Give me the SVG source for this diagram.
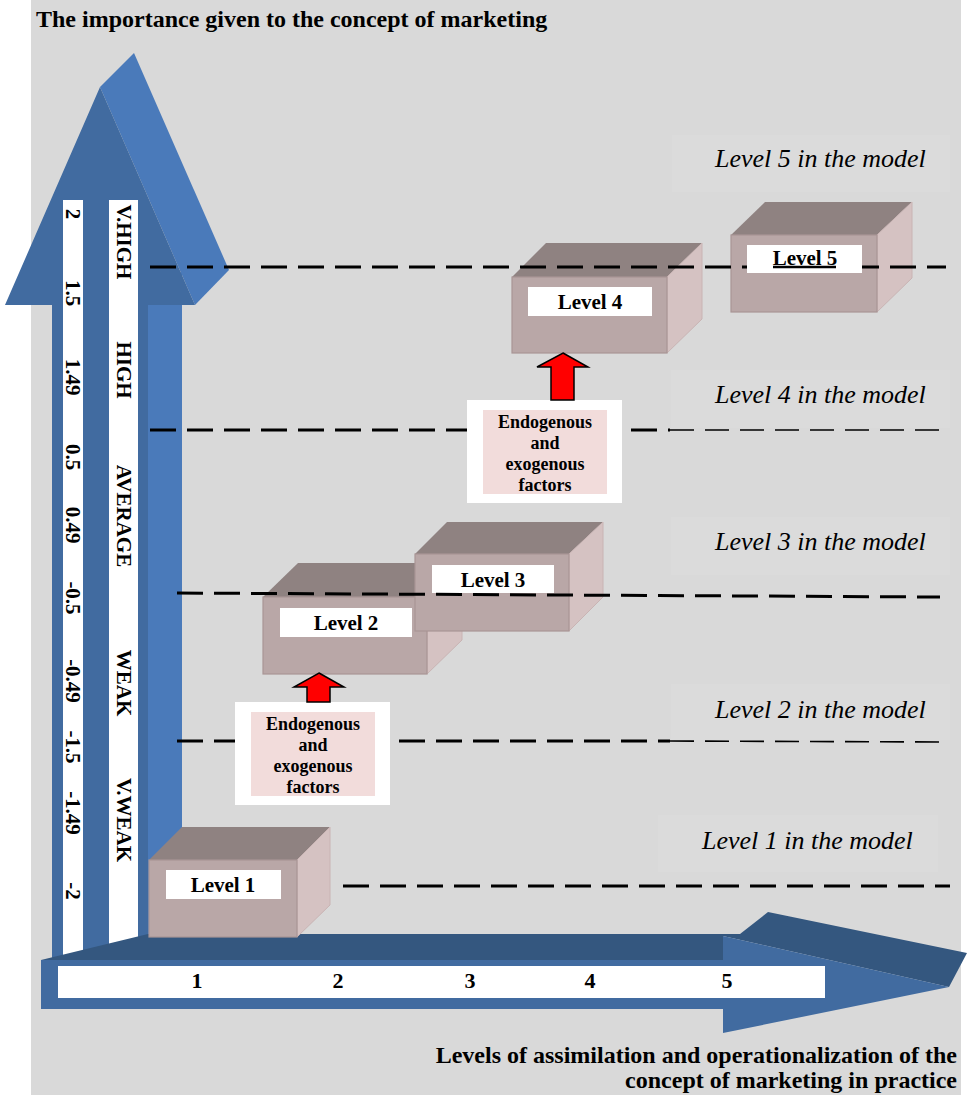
<svg xmlns="http://www.w3.org/2000/svg" width="967" height="1095" viewBox="0 0 967 1095">
<style>
.b{font-family:"Liberation Serif","Times New Roman",serif;font-weight:bold;fill:#000}
.it{font-family:"Liberation Serif","Times New Roman",serif;font-style:italic;font-size:26px;fill:#000}
.vt{font-size:21px;text-anchor:middle;dominant-baseline:central}
.ax{font-size:22px;text-anchor:middle}
.lv{font-size:21px;text-anchor:middle}
.en{font-size:18px;text-anchor:middle}
.top{fill:#8f8281}
.side{fill:#d5c2c2;stroke:#c9b4b4;stroke-width:1}
.front{fill:#b9a7a7;stroke:#a99595;stroke-width:1.2}
.lab{fill:#fff}
.thick{stroke:#000;stroke-width:3;stroke-dasharray:26 11;fill:none}
.thin{stroke:#000;stroke-width:1.6;stroke-dasharray:24 11;fill:none}
.mrect{fill:#dbdbdb}
.red{fill:#ff0000;stroke:#000;stroke-width:1.5}
</style>
<rect x="0" y="0" width="967" height="1095" fill="#ffffff"/>
<rect x="31" y="0" width="930" height="1095" fill="#d9d9d9"/>
<text class="b" x="36" y="27" font-size="24">The importance given to the concept of marketing</text>

<g id="model-labels">
<rect class="mrect" x="672" y="135" width="278" height="57"/>
<text class="it" x="715" y="167">Level 5 in the model</text>
<rect class="mrect" x="671" y="370" width="279" height="58"/>
<text class="it" x="715" y="403">Level 4 in the model</text>
<rect class="mrect" x="671" y="517" width="279" height="58"/>
<text class="it" x="715" y="550">Level 3 in the model</text>
<rect class="mrect" x="671" y="684" width="279" height="56"/>
<text class="it" x="715" y="718">Level 2 in the model</text>
<rect class="mrect" x="658" y="815" width="280" height="57"/>
<text class="it" x="702" y="849">Level 1 in the model</text>
</g>

<g id="vertical-axis">
<polygon points="100,87 134,53 229,270 195,305" fill="#4a7aba"/>
<polygon points="148,305 182,271 182,930 148,940" fill="#4a7aba"/>
<polygon points="52,965 52,305 5,305 100,87 195,305 148,305 148,945" fill="#416ba0"/>
<rect x="63" y="200" width="20" height="760" fill="#fff"/>
<rect x="109" y="200" width="29" height="760" fill="#fff"/>
<g class="b vt">
<text transform="translate(73,214) rotate(90)">2</text>
<text transform="translate(73,293) rotate(90)">1.5</text>
<text transform="translate(73,377) rotate(90)">1.49</text>
<text transform="translate(73,457) rotate(90)">0.5</text>
<text transform="translate(73,525) rotate(90)">0.49</text>
<text transform="translate(73,598) rotate(90)">-0.5</text>
<text transform="translate(73,681) rotate(90)">-0.49</text>
<text transform="translate(73,747) rotate(90)">-1.5</text>
<text transform="translate(73,813) rotate(90)">-1.49</text>
<text transform="translate(73,891) rotate(90)">-2</text>
<text transform="translate(123.5,242) rotate(90)">V.HIGH</text>
<text transform="translate(123.5,370) rotate(90)">HIGH</text>
<text transform="translate(123.5,516) rotate(90)">AVERAGE</text>
<text transform="translate(123.5,683) rotate(90)">WEAK</text>
<text transform="translate(123.5,820) rotate(90)">V.WEAK</text>
</g>
</g>

<g id="horizontal-axis">
<polygon points="41,960 148,934 740,934 768,912 967,953 949,987 723,936 723,960" fill="#34577f"/>
<polygon points="41,960 723,960 723,936 949,987 723,1033 723,1009 41,1009" fill="#416ba0"/>
<rect x="58" y="966" width="767" height="32" fill="#fff"/>
<g class="b ax">
<text x="197" y="988">1</text>
<text x="338" y="988">2</text>
<text x="470" y="988">3</text>
<text x="590" y="988">4</text>
<text x="727" y="988">5</text>
</g>
</g>
<text class="b" x="957" y="1063" font-size="24" text-anchor="end">Levels of assimilation and operationalization of the</text>
<text class="b" x="957" y="1088" font-size="24" text-anchor="end">concept of marketing in practice</text>

<g id="level1">
<polygon class="top" points="149,860 182,827 330,827 297,860"/>
<polygon class="side" points="297,860 330,827 330,905 297,937"/>
<rect class="front" x="149" y="860" width="148" height="77"/>
<rect class="lab" x="166" y="870" width="115" height="29"/>
<text class="b lv" x="223" y="892">Level 1</text>
</g>
<g id="level2">
<polygon class="top" points="263,597 298,563 462,563 427,597"/>
<polygon class="side" points="427,597 462,563 462,640 427,674"/>
<rect class="front" x="263" y="597" width="164" height="77"/>
<rect class="lab" x="280" y="608" width="132" height="29"/>
<text class="b lv" x="346" y="630">Level 2</text>
</g>
<g id="level3">
<polygon class="top" points="415,554 447,522 603,522 569,554"/>
<polygon class="side" points="569,554 603,522 603,597 569,631"/>
<rect class="front" x="415" y="554" width="154" height="77"/>
<rect class="lab" x="432" y="565" width="122" height="28"/>
<text class="b lv" x="493" y="587">Level 3</text>
</g>
<g id="level4">
<polygon class="top" points="512,277 546,243 702,243 667,277"/>
<polygon class="side" points="667,277 702,243 702,319 667,353"/>
<rect class="front" x="512" y="277" width="155" height="76"/>
<rect class="lab" x="528" y="287" width="124" height="29"/>
<text class="b lv" x="590" y="309">Level 4</text>
</g>
<g id="level5">
<polygon class="top" points="731,235 765,202 912,202 877,235"/>
<polygon class="side" points="877,235 912,202 912,278 877,312"/>
<rect class="front" x="731" y="235" width="146" height="77"/>
</g>

<g id="dashed-lines">
<line class="thick" x1="150" y1="267" x2="946" y2="267"/>
<line class="thick" x1="150" y1="430" x2="670" y2="430"/>
<line class="thin" x1="670" y1="430" x2="946" y2="430"/>
<line class="thick" x1="177" y1="593" x2="940" y2="597"/>
<line class="thick" x1="177" y1="741" x2="670" y2="741"/>
<line class="thin" x1="670" y1="741" x2="950" y2="742"/>
<line class="thick" x1="343" y1="886" x2="950" y2="886"/>
</g>

<g id="level5-label">
<rect class="lab" x="747" y="245" width="115" height="28"/>
<text class="b lv" x="805" y="265">Level 5</text>
<line x1="773" y1="267" x2="836" y2="267" stroke="#000" stroke-width="2.5"/>
</g>

<g id="factors-a">
<rect x="235" y="702" width="155" height="103" fill="#fff"/>
<rect x="251" y="712" width="124" height="84" fill="#f2dcdb"/>
<g class="b en">
<text x="313" y="730">Endogenous</text>
<text x="313" y="751">and</text>
<text x="313" y="772">exogenous</text>
<text x="313" y="793">factors</text>
</g>
</g>
<g id="factors-b">
<rect x="467" y="400" width="155" height="103" fill="#fff"/>
<rect x="483" y="410" width="124" height="84" fill="#f2dcdb"/>
<g class="b en">
<text x="545" y="428">Endogenous</text>
<text x="545" y="449">and</text>
<text x="545" y="470">exogenous</text>
<text x="545" y="491">factors</text>
</g>
</g>

<g id="connectors">
<polygon class="red" points="319,673 344,687 330,687 330,702 307,702 307,687 294,687"/>
<polygon class="red" points="563,353 588,367 574,367 574,400 551,400 551,367 537,367"/>
</g>
</svg>
